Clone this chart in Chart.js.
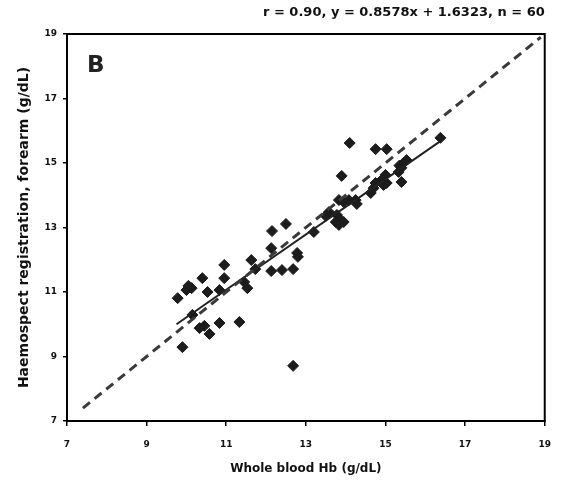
<!DOCTYPE html>
<html>
<head>
<meta charset="utf-8">
<script src="https://cdn.jsdelivr.net/npm/chart.js@4/dist/chart.umd.min.js"></script>
<style>
  html, body { margin: 0; padding: 0; background: #fff; }
  #wrap { width: 564px; height: 486px; }
</style>
</head>
<body>
<div id="wrap"><canvas id="chart" width="564" height="486"></canvas></div>
<script>
// Axis ticks (g/dL)
const axisTicks = [7, 9, 11, 13, 15, 17, 19];

// Whole blood Hb (x) and Haemospect forearm reading (y)
const wholeBloodHb = [
  9.90, 9.78, 10.00, 10.13, 10.05, 10.15, 10.33, 10.45, 10.58, 10.40,
  10.53, 10.83, 10.83, 10.95, 10.95, 11.33, 11.45, 11.53, 11.63, 11.73,
  12.13, 12.15, 12.13, 12.40, 12.68, 12.78, 12.80, 12.68, 12.50, 13.20,
  13.58, 13.50, 13.78, 13.88, 13.83, 13.75, 13.83, 13.95, 14.08, 14.25,
  14.28, 13.90, 14.10, 14.63, 14.75, 14.70, 14.75, 15.03, 14.90, 15.00,
  15.03, 15.40, 15.33, 15.40, 15.45, 15.53, 16.38, 14.95, 13.95, 15.35
];
const haemospectForearm = [
  9.29, 10.81, 11.06, 11.12, 11.19, 10.29, 9.88, 9.95, 9.70, 11.43,
  11.00, 11.06, 10.04, 11.84, 11.43, 10.07, 11.31, 11.12, 11.99, 11.71,
  12.36, 12.89, 11.65, 11.68, 11.71, 12.21, 12.09, 8.71, 13.11, 12.86,
  13.48, 13.36, 13.39, 13.23, 13.08, 13.17, 13.85, 13.79, 13.85, 13.85,
  13.73, 14.60, 15.62, 14.07, 14.38, 14.22, 15.43, 15.43, 14.47, 14.63,
  14.38, 14.41, 14.72, 14.85, 15.00, 15.09, 15.78, 14.32, 13.17, 14.92
];

// Regression line end points and line of identity end points
const regressionX = [9.75, 16.38];
const regressionY = [10.00, 15.68];
const identityX = [7.4, 18.9];
const identityY = [7.4, 18.9];

const titleText = 'r = 0.90, y = 0.8578x + 1.6323, n = 60';
const panelLabel = 'B';

const scatterPoints = wholeBloodHb.map((x, i) => ({ x: x, y: haemospectForearm[i] }));
const regressionPoints = regressionX.map((x, i) => ({ x: x, y: regressionY[i] }));
const identityPoints = identityX.map((x, i) => ({ x: x, y: identityY[i] }));

// box around plot, panel letter and header text
const decorations = {
  id: 'decorations',
  afterDraw(chart) {
    const { ctx, chartArea: a } = chart;
    ctx.save();
    ctx.strokeStyle = '#000';
    ctx.lineWidth = 2;
    ctx.strokeRect(a.left, a.top, a.right - a.left, a.bottom - a.top);

    ctx.fillStyle = '#111';
    ctx.font = 'bold 13px "DejaVu Sans"';
    ctx.textAlign = 'right';
    ctx.textBaseline = 'middle';
    ctx.fillText(titleText, a.right, 13);

    ctx.font = 'bold 23px "DejaVu Sans"';
    ctx.textAlign = 'left';
    ctx.fillStyle = '#222';
    ctx.fillText(panelLabel, a.left + 20, 66);
    ctx.restore();
  }
};

const tickFont = { family: 'DejaVu Sans', size: 9, weight: 'bold' };

new Chart(document.getElementById('chart'), {
  type: 'scatter',
  data: {
    datasets: [
      {
        label: 'identity',
        data: identityPoints,
        showLine: true,
        borderColor: '#3a3a3a',
        borderWidth: 3,
        borderDash: [9, 6],
        pointRadius: 0
      },
      {
        label: 'regression',
        data: regressionPoints,
        showLine: true,
        borderColor: '#222',
        borderWidth: 2,
        pointRadius: 0
      },
      {
        label: 'subjects',
        data: scatterPoints,
        pointStyle: 'rectRot',
        pointRadius: 5.5,
        backgroundColor: '#1c1c1c',
        borderColor: '#1c1c1c',
        borderWidth: 1
      }
    ]
  },
  options: {
    responsive: false,
    animation: false,
    layout: { padding: { top: 34, right: 18, left: 0, bottom: 0 } },
    plugins: {
      legend: { display: false },
      tooltip: { enabled: false }
    },
    scales: {
      x: {
        type: 'linear',
        min: 7,
        max: 19,
        afterBuildTicks: s => { s.ticks = axisTicks.map(v => ({ value: v })); },
        afterFit: s => { s.height = 65; },
        grid: { drawOnChartArea: false, drawTicks: true, tickLength: 5, color: '#000', lineWidth: 1.5 },
        border: { display: true, color: '#000', width: 2 },
        ticks: { color: '#111', font: tickFont, padding: 13 },
        title: {
          display: true, text: 'Whole blood Hb (g/dL)', color: '#111',
          font: { family: 'DejaVu Sans', size: 12, weight: 'bold' },
          padding: { top: 0, bottom: 10 }
        }
      },
      y: {
        type: 'linear',
        min: 7,
        max: 19,
        afterBuildTicks: s => { s.ticks = axisTicks.map(v => ({ value: v })); },
        afterFit: s => { s.width = 67; },
        grid: { drawOnChartArea: false, drawTicks: true, tickLength: 4, color: '#000', lineWidth: 1.5 },
        border: { display: true, color: '#000', width: 2 },
        ticks: { color: '#111', font: tickFont, padding: 6 },
        title: {
          display: true, text: 'Haemospect registration, forearm (g/dL)', color: '#111',
          font: { family: 'DejaVu Sans', size: 14, weight: 'bold' },
          padding: { top: 16, bottom: 0 }
        }
      }
    }
  },
  plugins: [decorations]
});
</script>
</body>
</html>
